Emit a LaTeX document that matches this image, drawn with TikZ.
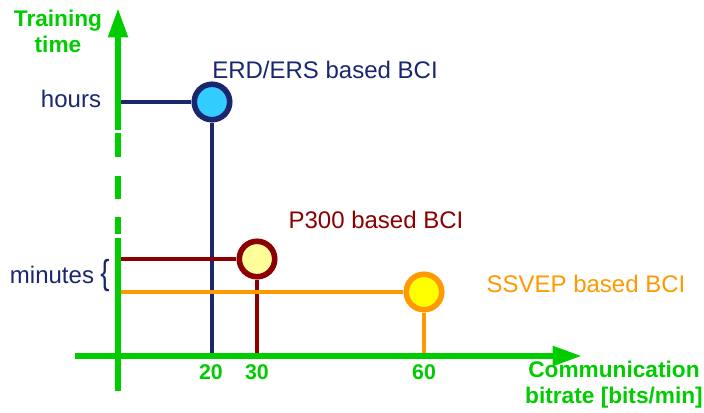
\documentclass[tikz,border=0pt]{standalone}
\usepackage{fontspec}
\setmainfont{Liberation Sans}
\usetikzlibrary{arrows.meta,calc,positioning}
\definecolor{axisgreen}{RGB}{0,204,0}
\definecolor{erdblue}{RGB}{26,38,110}
\definecolor{erdfill}{RGB}{51,204,255}
\definecolor{pred}{RGB}{140,0,0}
\definecolor{pfill}{RGB}{255,255,153}
\definecolor{sorange}{RGB}{255,153,0}
\definecolor{sfill}{RGB}{255,255,0}

\begin{document}
\begin{tikzpicture}[x=0.75pt,y=-0.75pt,
  axis/.style={axisgreen,line width=4.5pt},
  tip/.style={-{Triangle[length=22pt,width=14pt]}},
  bci/.style={circle,line width=4.2pt,minimum size=26.6pt,inner sep=0pt},
  link/.style={line width=2.8pt},
  lbl/.style={font=\fontsize{18}{21}\selectfont},
  axlbl/.style={axisgreen,font=\bfseries\fontsize{17}{19.5}\selectfont,align=center},
  tick/.style={axisgreen,font=\bfseries\fontsize{16}{18}\selectfont}]
\useasboundingbox (0,0) rectangle (704,413);
\coordinate (ybot) at (118,391);
\coordinate (ytop) at (118,8);
\coordinate (xleft) at (75,356);
\coordinate (xright) at (582,356);
% the three BCI types
\node[bci,draw=erdblue,fill=erdfill] (erd) at (212,102) {};
\node[bci,draw=pred,fill=pfill] (p300) at (257,259) {};
\node[bci,draw=sorange,fill=sfill] (ssvep) at (424,292) {};
\draw[link,erdblue] (erd.west) -- (erd -| ybot);
\draw[link,erdblue] (erd.south) -- (erd |- xleft);
\draw[link,pred] (p300.west) -- (p300 -| ybot);
\draw[link,pred] (p300.south) -- (p300 |- xleft);
\draw[link,sorange] (ssvep.west) -- (ssvep -| ybot);
\draw[link,sorange] (ssvep.south) -- (ssvep |- xleft);
% axes
\draw[axis] (ybot) -- (118,238);
\foreach \a/\b in {133/157,176/199,217/234}
  \draw[axis] (118,\a) -- (118,\b);
\draw[axis,tip] (118,130) -- (ytop);
\draw[axis,tip] (xleft) -- (xright);
% labels
\node[axlbl] (ylabel) at (58,31) {Training\\time};
\node[axlbl] (xlabel) at (614,385) {Communication\\bitrate [bits/min]};
\node[lbl,erdblue] (hours) at (71,99) {hours};
\node[lbl,erdblue] (minutes) at (52,275) {minutes};
\node[erdblue,font=\fontsize{26}{26}\selectfont,xscale=0.8] (brace) at (105,276) {\{};
\node[lbl,erdblue] (erdlbl) at (325,70) {ERD/ERS based BCI};
\node[lbl,pred] (p300lbl) at (376,220) {P300 based BCI};
\node[lbl,sorange] (ssveplbl) at (586,284) {SSVEP based BCI};
\node[tick] (t20) at (211,372) {20};
\node[tick] (t30) at (257,372) {30};
\node[tick] (t60) at (424,372) {60};
\end{tikzpicture}
\end{document}
